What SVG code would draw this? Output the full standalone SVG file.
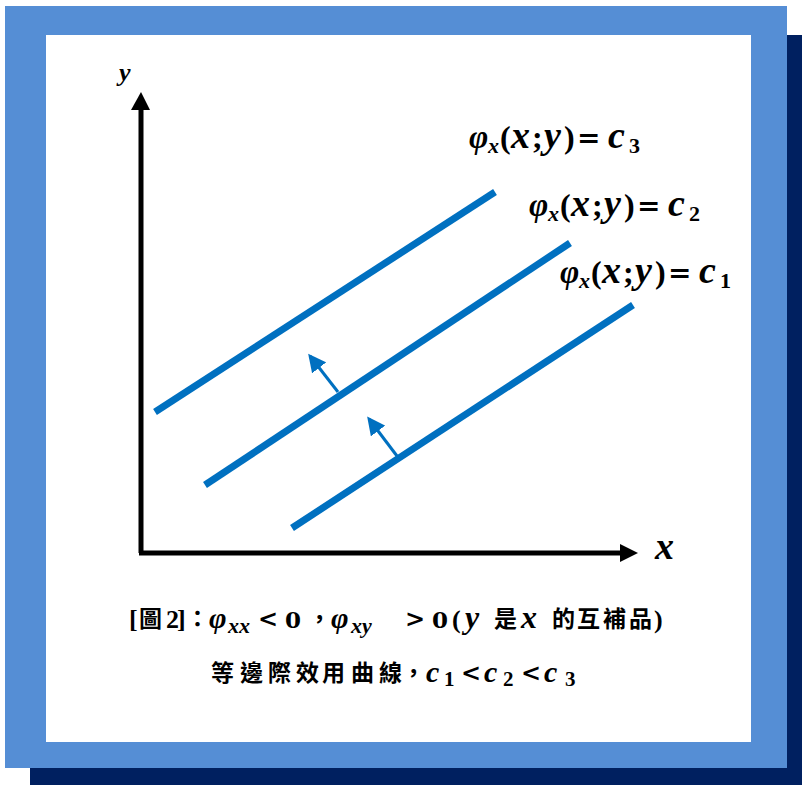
<svg xmlns="http://www.w3.org/2000/svg" width="802" height="785" viewBox="0 0 802 785">
<style>
.m{font-family:"Liberation Serif","Times New Roman",serif;font-weight:bold;fill:#000}
.i{font-style:italic}
.op{font-family:"DejaVu Serif",serif;font-weight:bold;font-style:normal}
.cj{font-family:"Noto Sans CJK TC","Noto Sans CJK SC",sans-serif;font-weight:bold;font-style:normal;font-size:23px}
.lb{font-size:32px}
.li{font-size:38px;font-style:italic}
.sb{font-size:22px}
.curve{stroke:#0070C0;stroke-width:7;fill:none}
.shift{stroke:#0070C0;stroke-width:3;fill:none}
.axis{stroke:#000;stroke-width:5;fill:none}
</style>
<defs>
<marker id="ah" markerWidth="6" markerHeight="6" refX="5" refY="3" orient="auto" markerUnits="strokeWidth"><path d="M0,0 L6,3 L0,6 z" fill="#0070C0"/></marker>
</defs>
<g id="frame">
<rect x="30" y="35" width="772" height="750" fill="#002060"/>
<rect x="5" y="6" width="782" height="762" fill="#558ED5"/>
<rect x="46" y="35" width="705" height="707" fill="#fff"/>
</g>
<g id="axes">
<path class="axis" d="M141,553 V108 M139,553 H622"/>
<path d="M131,110 L141,92 L150,110 z" fill="#000"/>
<path d="M620,544 L638,553 L620,562 z" fill="#000"/>
<text class="m i" x="119" y="81" font-size="26">y</text>
<text class="m i" x="655" y="559" font-size="38">x</text>
</g>
<g id="connectors">
<line class="curve" x1="155" y1="412" x2="495" y2="192"/>
<line class="curve" x1="205" y1="485" x2="570" y2="243"/>
<line class="curve" x1="292" y1="528" x2="633" y2="305"/>
<line class="shift" x1="338" y1="392" x2="310" y2="356" marker-end="url(#ah)"/>
<line class="shift" x1="397" y1="456" x2="369" y2="419" marker-end="url(#ah)"/>
</g>
<g id="label-c3" transform="translate(470,148)">
<text class="m lb"><tspan class="i" font-size="33" x="-1" y="0">φ</tspan><tspan class="i sb" x="18" y="5">x</tspan><tspan x="30" y="0">(</tspan><tspan class="li" x="41" y="0">x</tspan><tspan x="62" y="0">;</tspan><tspan class="li" x="74" y="0">y</tspan><tspan x="94" y="0">)</tspan><tspan class="op" font-size="28" x="107" y="-1">=</tspan><tspan class="li" x="138" y="0">c</tspan><tspan class="sb" x="159" y="5">3</tspan></text>
</g>
<g id="label-c2" transform="translate(530,216)">
<text class="m lb"><tspan class="i" font-size="33" x="-1" y="0">φ</tspan><tspan class="i sb" x="18" y="5">x</tspan><tspan x="30" y="0">(</tspan><tspan class="li" x="41" y="0">x</tspan><tspan x="62" y="0">;</tspan><tspan class="li" x="74" y="0">y</tspan><tspan x="94" y="0">)</tspan><tspan class="op" font-size="28" x="107" y="-1">=</tspan><tspan class="li" x="138" y="0">c</tspan><tspan class="sb" x="159" y="5">2</tspan></text>
</g>
<g id="label-c1" transform="translate(561,283)">
<text class="m lb"><tspan class="i" font-size="33" x="-1" y="0">φ</tspan><tspan class="i sb" x="18" y="5">x</tspan><tspan x="30" y="0">(</tspan><tspan class="li" x="41" y="0">x</tspan><tspan x="62" y="0">;</tspan><tspan class="li" x="74" y="0">y</tspan><tspan x="94" y="0">)</tspan><tspan class="op" font-size="28" x="107" y="-1">=</tspan><tspan class="li" x="138" y="0">c</tspan><tspan class="sb" x="159" y="5">1</tspan></text>
</g>
<g id="caption">
<text class="m" font-size="26"><tspan x="129" y="628">[</tspan><tspan class="cj" x="139" y="627">圖</tspan><tspan x="166" y="628">2</tspan><tspan x="177" y="628">]</tspan><tspan class="cj" font-size="21" x="186" y="627">：</tspan><tspan class="i" font-size="30" x="209" y="628">φ</tspan><tspan class="i" font-size="22" x="228" y="633">xx</tspan><tspan class="op" font-size="24" x="258" y="627">&lt;</tspan><tspan class="op" font-size="23" x="285" y="628">0</tspan><tspan class="cj" x="308" y="627">，</tspan><tspan class="i" font-size="30" x="331" y="628">φ</tspan><tspan class="i" font-size="22" x="351" y="633">xy</tspan><tspan class="op" font-size="24" x="405" y="627">&gt;</tspan><tspan class="op" font-size="23" x="432" y="628">0</tspan><tspan x="452" y="628">(</tspan><tspan class="i" font-size="32" x="465" y="628">y</tspan><tspan class="cj" x="494" y="627">是</tspan><tspan class="i" font-size="32" x="521" y="628">x</tspan><tspan class="cj" x="552" y="627">的</tspan><tspan class="cj" x="577" y="627">互</tspan><tspan class="cj" x="603" y="627">補</tspan><tspan class="cj" x="629" y="627">品</tspan><tspan x="654" y="628">)</tspan></text>
<text class="m" font-size="30"><tspan class="cj" x="211" y="681">等</tspan><tspan class="cj" x="240" y="681">邊</tspan><tspan class="cj" x="268" y="681">際</tspan><tspan class="cj" x="296" y="681">效</tspan><tspan class="cj" x="322" y="681">用</tspan><tspan class="cj" x="351" y="681">曲</tspan><tspan class="cj" x="379" y="681">線</tspan><tspan class="cj" font-size="19" x="402" y="681">，</tspan><tspan class="i" x="426" y="682">c</tspan><tspan font-size="21" x="444" y="686">1</tspan><tspan class="op" font-size="24" x="461" y="681">&lt;</tspan><tspan class="i" x="484" y="682">c</tspan><tspan font-size="21" x="503" y="686">2</tspan><tspan class="op" font-size="24" x="521" y="681">&lt;</tspan><tspan class="i" x="544" y="682">c</tspan><tspan font-size="21" x="565" y="686">3</tspan></text>
</g>
</svg>
